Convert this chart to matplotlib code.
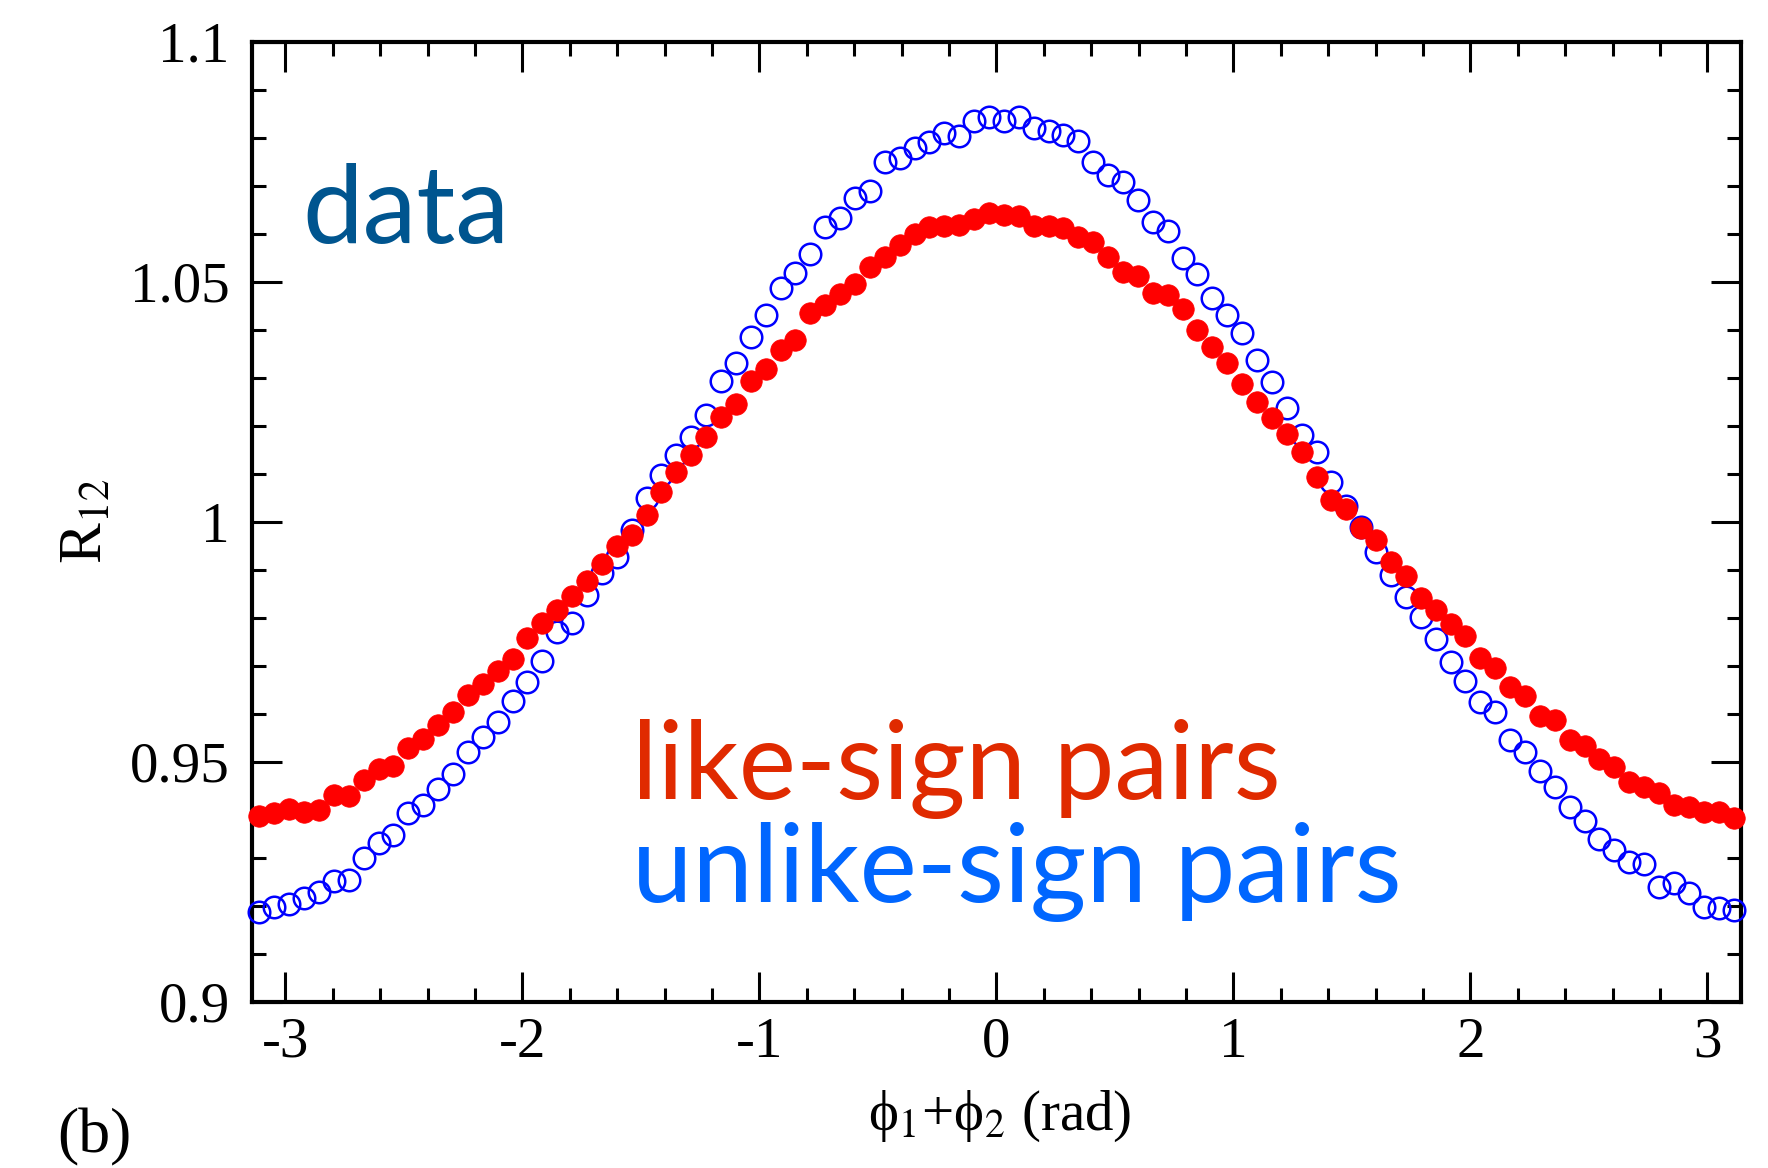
import numpy as np
import matplotlib
matplotlib.use("Agg")
import matplotlib.pyplot as plt
from matplotlib.ticker import MultipleLocator, FixedLocator, FixedFormatter

# 100 bins in phi1+phi2 over [-pi, pi]
edges = np.linspace(-np.pi, np.pi, 101)
phi = 0.5 * (edges[:-1] + edges[1:])

# like-sign pairs (filled red)
like = [0.9387, 0.9392, 0.9401, 0.9396, 0.9399, 0.9430, 0.9428, 0.9461, 0.9484, 0.9490,
        0.9528, 0.9547, 0.9577, 0.9604, 0.9638, 0.9661, 0.9688, 0.9714, 0.9758, 0.9788,
        0.9815, 0.9846, 0.9876, 0.9911, 0.9950, 0.9973, 1.0013, 1.0062, 1.0103, 1.0139,
        1.0177, 1.0219, 1.0246, 1.0293, 1.0319, 1.0358, 1.0378, 1.0435, 1.0451, 1.0474,
        1.0495, 1.0531, 1.0552, 1.0576, 1.0599, 1.0613, 1.0616, 1.0618, 1.0631, 1.0644,
        1.0639, 1.0637, 1.0615, 1.0615, 1.0611, 1.0594, 1.0583, 1.0552, 1.0521, 1.0512,
        1.0477, 1.0472, 1.0444, 1.0399, 1.0364, 1.0331, 1.0287, 1.0250, 1.0215, 1.0182,
        1.0146, 1.0094, 1.0045, 1.0026, 0.9986, 0.9961, 0.9915, 0.9887, 0.9841, 0.9815,
        0.9787, 0.9762, 0.9715, 0.9696, 0.9656, 0.9636, 0.9595, 0.9586, 0.9545, 0.9532,
        0.9505, 0.9489, 0.9457, 0.9448, 0.9434, 0.9409, 0.9405, 0.9394, 0.9394, 0.9383]

# unlike-sign pairs (open blue)
unlike = [0.9186, 0.9197, 0.9204, 0.9216, 0.9228, 0.9251, 0.9254, 0.9299, 0.9331, 0.9348,
          0.9392, 0.9410, 0.9442, 0.9475, 0.9521, 0.9552, 0.9582, 0.9627, 0.9665, 0.9710,
          0.9770, 0.9789, 0.9848, 0.9893, 0.9927, 0.9983, 1.0050, 1.0097, 1.0139, 1.0177,
          1.0222, 1.0292, 1.0330, 1.0385, 1.0430, 1.0486, 1.0519, 1.0557, 1.0613, 1.0632,
          1.0674, 1.0688, 1.0750, 1.0757, 1.0778, 1.0790, 1.0810, 1.0804, 1.0835, 1.0844,
          1.0835, 1.0844, 1.0820, 1.0813, 1.0806, 1.0794, 1.0750, 1.0722, 1.0707, 1.0670,
          1.0625, 1.0606, 1.0549, 1.0517, 1.0467, 1.0430, 1.0392, 1.0337, 1.0290, 1.0237,
          1.0180, 1.0146, 1.0083, 1.0032, 0.9988, 0.9936, 0.9889, 0.9843, 0.9801, 0.9755,
          0.9708, 0.9667, 0.9624, 0.9604, 0.9545, 0.9520, 0.9480, 0.9448, 0.9406, 0.9376,
          0.9339, 0.9315, 0.9290, 0.9287, 0.9238, 0.9247, 0.9226, 0.9198, 0.9195, 0.9191]

yticks = [0.9, 0.95, 1.0, 1.05, 1.1]
yticklabels = ["0.9", "0.95", "1", "1.05", "1.1"]
xticks = [-3, -2, -1, 0, 1, 2, 3]
xticklabels = ["-3", "-2", "-1", "0", "1", "2", "3"]

plt.rcParams['font.family'] = ['Liberation Serif', 'DejaVu Serif']
plt.rcParams['mathtext.fontset'] = 'stix'

fig = plt.figure(figsize=(17.68, 11.68), dpi=100)
ax = fig.add_axes([0.1425, 0.1425, 0.8422, 0.8218])

ax.plot(phi, unlike, 'o', ls='none', mfc='none', mec='#0000ff', ms=15.5, mew=1.8, clip_on=False, zorder=3)
ax.plot(phi, like, 'o', ls='none', mfc='#ff0000', mec='#ff0000', ms=15.5, mew=0.5, clip_on=False, zorder=4)

ax.set_xlim(-np.pi, np.pi)
ax.set_ylim(0.9, 1.1)

ax.xaxis.set_major_locator(FixedLocator(xticks))
ax.xaxis.set_major_formatter(FixedFormatter(xticklabels))
ax.xaxis.set_minor_locator(MultipleLocator(0.2))
ax.yaxis.set_major_locator(FixedLocator(yticks))
ax.yaxis.set_major_formatter(FixedFormatter(yticklabels))
ax.yaxis.set_minor_locator(MultipleLocator(0.01))

ax.tick_params(which='both', direction='in', top=True, right=True, width=2.2)
ax.tick_params(which='major', length=21.5, labelsize=41)
ax.tick_params(which='minor', length=10)
ax.tick_params(axis='x', which='major', pad=11)
ax.tick_params(axis='y', which='major', pad=16)
for s in ax.spines.values():
    s.set_linewidth(3)

ax.set_xlabel('ϕ$_1$+ϕ$_2$ (rad)', fontsize=41, va='baseline')
ax.xaxis.set_label_coords(0.502, -0.134)
ax.set_ylabel(r'R$_{12}$', fontsize=44, va='center', ha='center')
ax.yaxis.set_label_coords(-0.111, 0.5)

ax.text(0.0336, 0.79, 'data', transform=ax.transAxes, fontsize=78, family='Lato',
        color='#00558f', ha='left', va='baseline')
ax.text(0.255, 0.2115, 'like-sign pairs', transform=ax.transAxes, fontsize=78, family='Lato',
        color='#e02a00', ha='left', va='baseline')
ax.text(0.255, 0.1039, 'unlike-sign pairs', transform=ax.transAxes, fontsize=78, family='Lato',
        color='#0066ff', ha='left', va='baseline')

fig.text(0.0322, 0.0137, '(b)', fontsize=46, ha='left', va='baseline')

fig.savefig('out.png', dpi=100)
